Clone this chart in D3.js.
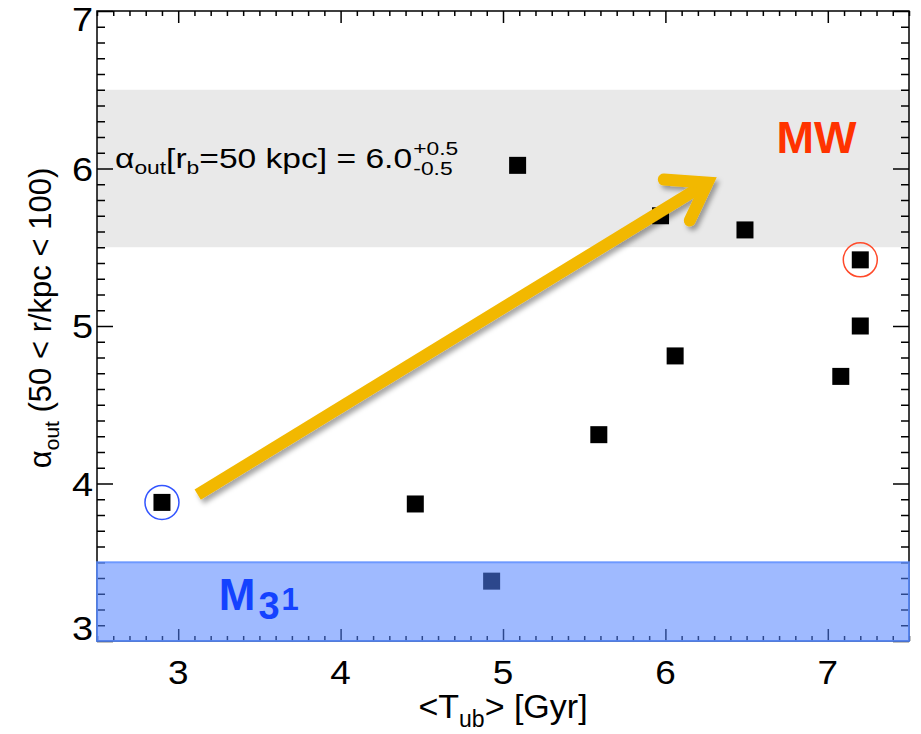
<!DOCTYPE html>
<meta charset="utf-8">
<script src="https://d3js.org/d3.v7.min.js"></script>
<style>
  body { margin: 0; background: #fff; }
  text { font-family: "Liberation Sans", Arial, sans-serif; }
</style>
<div id="my_dataviz"></div>
<script>

// data
var tub   = [2.90, 4.46, 4.93, 5.09, 5.59, 5.97, 6.06, 6.49, 7.08, 7.20, 7.20];
var alpha = [3.88, 3.87, 3.38, 6.02, 4.31, 5.70, 4.81, 5.61, 4.68, 5.42, 5.00];
var circled = [{x: 2.90, y: 3.88, c: "#3355ff"}, {x: 7.20, y: 5.42, c: "#ff4a2a"}];
var mwBand = [5.5, 6.5];
var m31Band = [3.0, 3.5];
var xTicks = [3, 4, 5, 6, 7];
var yTicks = [3, 4, 5, 6, 7];
// arrow: tail, head point, two barbs (data units)
var arrowShaft = [[3.12, 3.93], [6.26, 5.91]];
var arrowHead  = [[5.99, 5.93], [6.26, 5.91], [6.15, 5.67]];

var margin = {top: 11, right: 12, bottom: 93, left: 97},
    width = 921 - margin.left - margin.right,
    height = 734 - margin.top - margin.bottom;

var svg = d3.select("#my_dataviz")
  .append("svg")
    .attr("width", width + margin.left + margin.right)
    .attr("height", height + margin.top + margin.bottom)
  .append("g")
    .attr("transform", "translate(" + margin.left + "," + margin.top + ")");

var x = d3.scaleLinear().domain([2.5, 7.5]).range([0, width]);
var y = d3.scaleLinear().domain([3, 7]).range([height, 0]);

// shadow for the arrow
var defs = svg.append("defs");
defs.append("filter").attr("id", "shadow")
    .attr("x", "-10%").attr("y", "-10%").attr("width", "130%").attr("height", "140%")
  .append("feDropShadow")
    .attr("dx", 3).attr("dy", 4).attr("stdDeviation", 2.5)
    .attr("flood-color", "#000").attr("flood-opacity", 0.35);

// MW band
svg.append("rect")
    .attr("x", 0).attr("width", width)
    .attr("y", y(mwBand[1])).attr("height", y(mwBand[0]) - y(mwBand[1]))
    .style("fill", "#e9e9e9");

// axes with minor ticks on all four sides, pointing inward
var minorX = d3.range(25, 76).map(function(d) { return d / 10; });
var minorY = d3.range(30, 71).map(function(d) { return d / 10; });
function isMajor(v) { return Math.abs(v - Math.round(v)) < 1e-6; }

var axisStyle = function(g) {
  g.select(".domain").remove();
  g.selectAll("line").attr("stroke", "#000").attr("stroke-width", 1.5);
};

svg.append("g").attr("transform", "translate(0," + height + ")")
    .call(d3.axisBottom(x).tickValues(minorX).tickSizeInner(0).tickFormat(""))
    .call(axisStyle)
    .selectAll(".tick line").attr("y2", function(d) { return isMajor(d) ? -12 : -5; });
svg.append("g")
    .call(d3.axisTop(x).tickValues(minorX).tickSizeInner(0).tickFormat(""))
    .call(axisStyle)
    .selectAll(".tick line").attr("y2", function(d) { return isMajor(d) ? 12 : 5; });
svg.append("g")
    .call(d3.axisLeft(y).tickValues(minorY).tickSizeInner(0).tickFormat(""))
    .call(axisStyle)
    .selectAll(".tick line").attr("x2", function(d) { return isMajor(d) ? 16 : 8; });
svg.append("g").attr("transform", "translate(" + width + ",0)")
    .call(d3.axisRight(y).tickValues(minorY).tickSizeInner(0).tickFormat(""))
    .call(axisStyle)
    .selectAll(".tick line").attr("x2", function(d) { return isMajor(d) ? -16 : -8; });

// frame
svg.append("rect")
    .attr("x", 0).attr("y", 0).attr("width", width).attr("height", height)
    .style("fill", "none").style("stroke", "#000").style("stroke-width", 1.5);

// tick labels (slightly wide glyphs, as in the original)
svg.selectAll(".xlab").data(xTicks).enter().append("text")
    .attr("transform", function(d) { return "translate(" + x(d) + "," + (height + 43) + ") scale(1.12,1)"; })
    .attr("text-anchor", "middle")
    .style("font-size", "33px")
    .text(function(d) { return d; });
svg.selectAll(".ylab").data(yTicks).enter().append("text")
    .attr("transform", function(d) {
      return "translate(-4," + Math.min(Math.max(y(d) + 12, 20), height - 1) + ") scale(1.15,1)";
    })
    .attr("text-anchor", "end")
    .style("font-size", "33px")
    .text(function(d) { return d; });

// axis titles
var xt = svg.append("text")
    .attr("x", width / 2).attr("y", height + 77)
    .attr("text-anchor", "middle")
    .style("font-size", "34px");
xt.append("tspan").text("<T");
xt.append("tspan").attr("dy", 9).style("font-size", "23px").text("ub");
xt.append("tspan").attr("dy", -9).text("> [Gyr]");

var yt = svg.append("text")
    .attr("transform", "translate(-46," + (height / 2 - 8) + ") rotate(-90)")
    .attr("text-anchor", "middle")
    .style("font-size", "31px");
yt.append("tspan").text("α");
yt.append("tspan").attr("dy", 8).style("font-size", "21px").text("out");
yt.append("tspan").attr("dy", -8).text(" (50 < r/kpc < 100)");

// points
svg.selectAll(".pt").data(tub).enter().append("rect")
    .attr("x", function(d) { return x(d) - 8.5; })
    .attr("y", function(d, i) { return y(alpha[i]) - 8.5; })
    .attr("width", 17).attr("height", 17)
    .style("fill", "#000");

svg.selectAll(".ring").data(circled).enter().append("circle")
    .attr("cx", function(d) { return x(d.x); })
    .attr("cy", function(d) { return y(d.y); })
    .attr("r", 17)
    .style("fill", "none")
    .style("stroke", function(d) { return d.c; })
    .style("stroke-width", 1.5);

// arrow
var line = d3.line().x(function(d) { return x(d[0]); }).y(function(d) { return y(d[1]); });
var arrow = svg.append("g").attr("filter", "url(#shadow)");
arrow.append("path").attr("d", line(arrowShaft))
    .style("fill", "none").style("stroke", "#f2b800").style("stroke-width", 12)
    .style("stroke-linecap", "butt");
arrow.append("path").attr("d", line(arrowHead))
    .style("fill", "none").style("stroke", "#f2b800").style("stroke-width", 12)
    .style("stroke-linecap", "round").style("stroke-linejoin", "miter");

// M31 band (over everything)
svg.append("rect")
    .attr("x", 0).attr("width", width)
    .attr("y", y(m31Band[1])).attr("height", y(m31Band[0]) - y(m31Band[1]))
    .style("fill", "rgb(80,130,255)").style("fill-opacity", 0.55)
    .style("stroke", "rgb(90,140,255)").style("stroke-opacity", 0.8).style("stroke-width", 2);

// labels
svg.append("text")
    .attr("x", x(6.93)).attr("y", y(6.1))
    .attr("text-anchor", "middle")
    .style("font-size", "45px").style("font-weight", "bold")
    .style("fill", "#ff3300")
    .text("MW");

var m31 = svg.append("text")
    .attr("x", x(3.25)).attr("y", y(3.20))
    .style("font-weight", "bold").style("fill", "#1442ff");
m31.append("tspan").style("font-size", "44px").text("M");
m31.append("tspan").attr("dx", 3).attr("dy", 9).style("font-size", "38px").text("3");
m31.append("tspan").attr("dx", 2).attr("dy", -9).style("font-size", "31px").text("1");

// band annotation
var annG = svg.append("g")
    .attr("transform", "translate(18," + (y(6.0) - 1) + ") scale(1.2,1)");
var ann = annG.append("text")
    .style("font-size", "28px");
ann.append("tspan").text("α");
ann.append("tspan").attr("dy", 6).style("font-size", "19px").text("out");
ann.append("tspan").attr("dy", -6).text("[r");
ann.append("tspan").attr("dy", 6).style("font-size", "19px").text("b");
ann.append("tspan").attr("dy", -6).text("=50 kpc] = 6.0");
var annW = ann.node().getComputedTextLength();
annG.append("text").attr("x", annW + 1).attr("y", -13)
    .style("font-size", "19px").text("+0.5");
annG.append("text").attr("x", annW + 1).attr("y", 7)
    .style("font-size", "19px").text("-0.5");

</script>
